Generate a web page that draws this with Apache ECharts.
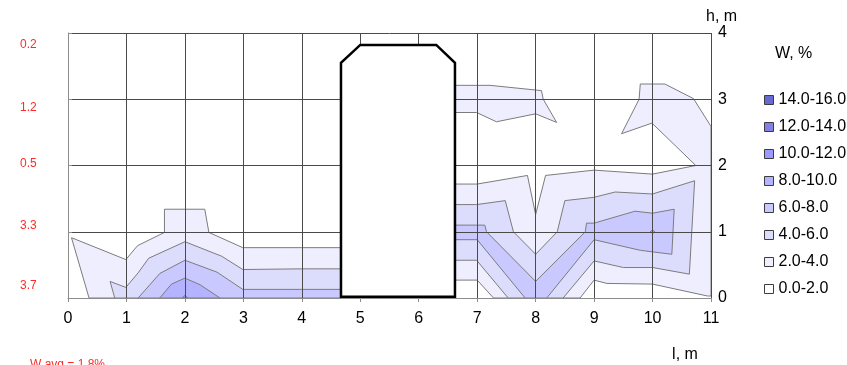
<!DOCTYPE html>
<html>
<head>
<meta charset="utf-8">
<script src="https://cdn.jsdelivr.net/npm/echarts@6/dist/echarts.min.js"></script>
<style>
  html, body { margin: 0; padding: 0; background: #ffffff; }
  #chart { width: 847px; height: 365px; }
</style>
</head>
<body>
<div id="chart"></div>
<script>
// Moisture content W (%) over the wall section: l along the wall, h height (m)

// Contour bands (legend order is top-down, highest first)
const bandNames = ['0.0-2.0', '2.0-4.0', '4.0-6.0', '6.0-8.0', '8.0-10.0', '10.0-12.0', '12.0-14.0', '14.0-16.0'];
const bandColors = ['#ffffff', '#eeeeff', '#dcdcfd', '#c9c9ff', '#b3b3ff', '#9a9aff', '#8080e6', '#6969d4'];

// Isoline regions: every polygon encloses W >= level, vertices are [l, h]
const isoW2 = [
  [[0.36, 0], [0.06, 0.91], [0.99, 0.58], [1.19, 0.79], [1.65, 0.99], [1.65, 1.34], [2.0, 1.34],
   [2.34, 1.34], [2.41, 0.99], [2.99, 0.76], [4.0, 0.76], [5.0, 0.76], [6.3, 1.72], [7.0, 1.72],
   [7.86, 1.85], [8.0, 1.26], [8.17, 1.85], [9.0, 1.93], [10.0, 1.87], [10.74, 2.0], [9.99, 2.64],
   [9.47, 2.48], [9.77, 3.0], [9.79, 3.23], [10.21, 3.23], [10.7, 3.01], [11.0, 2.59], [11.0, 0.03],
   [10.94, 0.03], [10.0, 0.21], [9.22, 0.22], [9.0, 0.27], [8.76, 0], [7.28, 0], [7.0, 0.27],
   [6.3, 0.27], [5.0, 0]],
  [[6.3, 3.21], [7.22, 3.21], [8.1, 3.13], [8.13, 3.0], [8.36, 2.65], [8.0, 2.78], [7.33, 2.66],
   [6.99, 2.8], [6.3, 2.8]]
];
const isoW4 = [
  [[0.8, 0], [0.72, 0.25], [0.99, 0.16], [1.2, 0.38], [1.38, 0.6], [2.0, 0.85], [2.63, 0.63],
   [2.99, 0.43], [4.0, 0.44], [5.0, 0.44], [6.3, 1.41], [6.99, 1.41], [7.48, 1.47], [7.62, 1.0],
   [8.0, 0.66], [8.37, 1.0], [8.5, 1.47], [9.0, 1.52], [9.36, 1.6], [10.0, 1.57], [10.72, 1.77],
   [10.63, 0.36], [10.0, 0.46], [9.5, 0.46], [9.0, 0.56], [8.47, 0], [7.53, 0], [6.99, 0.57],
   [6.3, 0.57], [5.0, 0]]
];
const isoW6 = [
  [[1.2, 0], [1.57, 0.37], [2.0, 0.57], [2.55, 0.39], [2.99, 0.13], [4.0, 0.13], [5.0, 0.13],
   [6.3, 1.1], [7.13, 1.1], [7.16, 1.0], [8.0, 0.25], [8.85, 1.0], [8.87, 1.13], [9.0, 1.13],
   [9.7, 1.31], [10.0, 1.28], [10.37, 1.34], [10.33, 0.66], [9.79, 0.72], [9.0, 0.88], [8.19, 0],
   [7.82, 0], [7.0, 0.88], [6.3, 0.88], [5.0, 0]]
];
const isoW8 = [
  [[1.57, 0], [1.77, 0.21], [2.0, 0.3], [2.26, 0.2], [2.6, 0]],
  [[9.96, 1.0], [10.0, 1.025], [10.04, 1.0], [10.0, 0.975]]
];
const isoW10 = [
  [[1.95, 0], [2.0, 0.04], [2.05, 0]]
];
const isoW12 = [];
const isoW14 = [];
const isoByBand = [[], isoW2, isoW4, isoW6, isoW8, isoW10, isoW12, isoW14];

// Pillar cross-section outline [l, h]
const pillarL = [4.67, 4.67, 5.0, 6.3, 6.62, 6.62];
const pillarH = [0.02, 3.55, 3.82, 3.82, 3.55, 0.02];

// Average W per horizontal layer, labelled at the layer height
const layerH = [3.82, 2.88, 2.02, 1.09, 0.18];
const layerW = ['0.2', '1.2', '0.5', '3.3', '3.7'];
const avgText = 'W avg = 1.8%';

// Axis ranges
const lMin = 0, lMax = 11, lStep = 1;
const hMin = 0, hMax = 4, hStep = 1;

const chart = echarts.init(document.getElementById('chart'), null, { renderer: 'canvas' });

const FONT = 'Liberation Sans, Arial, sans-serif';

const bandSeries = bandNames.map((name, b) => ({
  name: name,
  type: 'custom',
  coordinateSystem: 'cartesian2d',
  z: 2,
  silent: true,
  itemStyle: { color: bandColors[b] },
  encode: { x: 0, y: 1 },
  data: isoByBand[b].map((_, i) => [i, 0]),
  renderItem: function (params, api) {
    const poly = isoByBand[b][api.value(0)];
    const pts = poly.map(p => api.coord(p));
    return {
      type: 'polygon',
      shape: { points: pts },
      style: { fill: bandColors[b], stroke: '#7c7c7c', lineWidth: 1 }
    };
  }
}));

const pillarSeries = {
  name: 'pillar',
  type: 'custom',
  coordinateSystem: 'cartesian2d',
  z: 5,
  silent: true,
  encode: { x: 0, y: 1 },
  data: [[pillarL[0], pillarH[0]]],
  renderItem: function (params, api) {
    const pts = pillarL.map((l, i) => api.coord([l, pillarH[i]]));
    return {
      type: 'polygon',
      shape: { points: pts },
      style: { fill: '#ffffff', stroke: '#000000', lineWidth: 2.5, lineJoin: 'miter' }
    };
  }
};

const layerSeries = {
  name: 'layers',
  type: 'custom',
  coordinateSystem: 'cartesian2d',
  z: 5,
  silent: true,
  clip: false,
  encode: { x: 0, y: 1 },
  data: layerH.map((h, i) => [lMin, h, i]),
  renderItem: function (params, api) {
    const c = api.coord([lMin, api.value(1)]);
    return {
      type: 'text',
      x: c[0] - 48,
      y: c[1],
      style: {
        text: layerW[api.value(2)],
        fill: '#ff2a2a',
        font: '12px ' + FONT,
        textAlign: 'left',
        textVerticalAlign: 'middle'
      }
    };
  }
};

const option = {
  animation: false,
  backgroundColor: '#ffffff',
  title: {
    text: 'W, %',
    left: 770,
    top: 41,
    textStyle: { fontFamily: FONT, fontSize: 16, fontWeight: 'normal', color: '#000' }
  },
  legend: {
    orient: 'vertical',
    left: 759,
    top: 87,
    selectedMode: false,
    icon: 'rect',
    itemWidth: 9,
    itemHeight: 9,
    itemGap: 11,
    data: bandNames.slice().reverse(),
    itemStyle: { borderColor: '#3c3c3c', borderWidth: 1 },
    textStyle: { fontFamily: FONT, fontSize: 16, color: '#000', lineHeight: 16 }
  },
  graphic: [
    {
      type: 'text',
      left: 30,
      top: 359,
      style: { text: avgText, fill: '#ff2a2a', font: '12px ' + FONT }
    },
    {
      type: 'text',
      left: 706,
      top: 9,
      style: { text: 'h, m', fill: '#000', font: '16px ' + FONT }
    }
  ],
  grid: { left: 68, right: 136, top: 33, bottom: 67 },
  xAxis: {
    type: 'value',
    min: lMin, max: lMax, interval: lStep,
    z: 3,
    name: 'l, m',
    nameLocation: 'end',
    nameGap: -26,
    nameTextStyle: { fontFamily: FONT, fontSize: 16, color: '#000', align: 'center', verticalAlign: 'top', padding: [49, 0, 0, 0] },
    axisLine: { show: true, lineStyle: { color: '#8c8c8c', width: 1 } },
    axisTick: { show: true, length: 4, lineStyle: { color: '#8c8c8c' } },
    axisLabel: { margin: 13, fontFamily: FONT, fontSize: 16, color: '#000' },
    splitLine: { show: true, lineStyle: { color: '#4a4a4a', width: 1 } }
  },
  yAxis: {
    type: 'value',
    position: 'right',
    min: hMin, max: hMax, interval: hStep,
    z: 3,
    axisLine: { show: true, lineStyle: { color: '#8c8c8c', width: 1 } },
    axisTick: { show: true, length: 4, lineStyle: { color: '#8c8c8c' } },
    axisLabel: { margin: 7, fontFamily: FONT, fontSize: 16, color: '#000' },
    splitLine: { show: true, lineStyle: { color: '#4a4a4a', width: 1 } }
  },
  series: bandSeries.concat([pillarSeries, layerSeries])
};

chart.setOption(option);
</script>
</body>
</html>
